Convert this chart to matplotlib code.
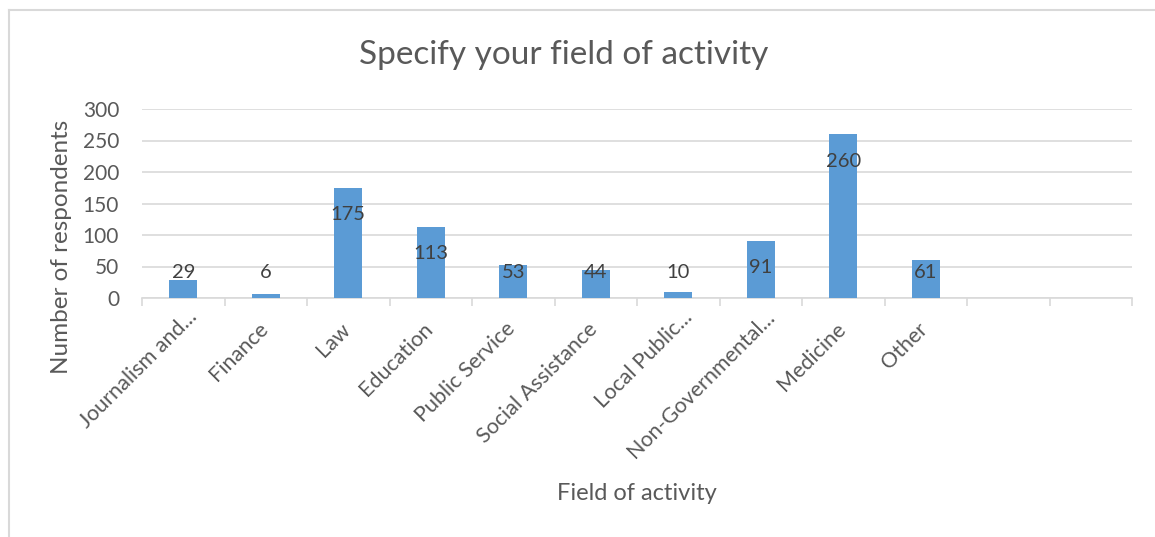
import matplotlib.pyplot as plt
import matplotlib.transforms as mtransforms
from matplotlib.lines import Line2D

# Survey answers by field of activity
fields = ["Journalism and...", "Finance", "Law", "Education", "Public Service",
          "Social Assistance", "Local Public...", "Non-Governmental...",
          "Medicine", "Other", "", ""]
respondents = [29, 6, 175, 113, 53, 44, 10, 91, 260, 61, None, None]
y_ticks = [0, 50, 100, 150, 200, 250, 300]

TEXT = "#595959"
BAR = "#5B9BD5"
GRID = "#D9D9D9"

plt.rcParams["font.family"] = ["Lato", "DejaVu Sans"]

fig = plt.figure(figsize=(11.55, 5.37), dpi=100)
W, H = 1155, 537
ax = fig.add_axes([142 / W, 1 - 298 / H, 990 / W, 189 / H])

xs = list(range(len(fields)))
vals = [v if v is not None else 0 for v in respondents]
ax.bar(xs, vals, width=0.34, color=BAR, zorder=3)

# value labels sit just inside the top of each bar, never below a floor
for x, v in zip(xs, respondents):
    if v is None:
        continue
    ax.text(x, max(v - 43, 41), str(v), ha="center", va="center",
            fontsize=14.5, color="#404040", zorder=4)

ax.set_xlim(-0.5, len(fields) - 0.5)
ax.set_ylim(0, 300)
ax.set_yticks(y_ticks)
ax.yaxis.grid(True, color=GRID, linewidth=1.2, zorder=0)
for s in ("top", "right", "left"):
    ax.spines[s].set_visible(False)
ax.spines["bottom"].set_color(GRID)
ax.spines["bottom"].set_linewidth(1.2)
ax.tick_params(axis="y", length=0, labelsize=15, labelcolor=TEXT, pad=16.5)

# category boundary ticks below the axis
ax.set_xticks([i - 0.5 for i in range(len(fields) + 1)], minor=False)
ax.set_xticklabels([])
ax.tick_params(axis="x", which="major", length=6, width=1.2, color=GRID)
ax.set_xticks(xs, minor=True)
ax.set_xticklabels(fields, minor=True, rotation=45, ha="right",
                   rotation_mode="anchor", fontsize=15.5, color=TEXT)
ax.tick_params(axis="x", which="minor", length=0, pad=15)
for lbl in ax.get_xticklabels(minor=True):
    # shortened names are pushed a little further along their own direction
    dx, dy = (-8, 0) if not lbl.get_text().endswith("...") else (4, 12)
    shift = mtransforms.ScaledTranslation(dx / 100, dy / 100, fig.dpi_scale_trans)
    lbl.set_transform(lbl.get_transform() + shift)

fig.text(61 / W, 1 - 247 / H, "Number of respondents", rotation=90,
         ha="center", va="center", fontsize=17.5, color=TEXT)
fig.text(637 / W, 1 - 493 / H, "Field of activity", ha="center", va="center",
         fontsize=17, color=TEXT)
fig.text(564 / W, 1 - 55 / H, "Specify your field of activity", ha="center",
         va="center", fontsize=24, color=TEXT)

# chart frame
fig.add_artist(Line2D([8.5 / W, 1], [1 - 9.5 / H, 1 - 9.5 / H], color=GRID, lw=1.5))
fig.add_artist(Line2D([8.5 / W, 8.5 / W], [0, 1 - 9.5 / H], color=GRID, lw=1.5))

fig.savefig("out.png", dpi=100)
